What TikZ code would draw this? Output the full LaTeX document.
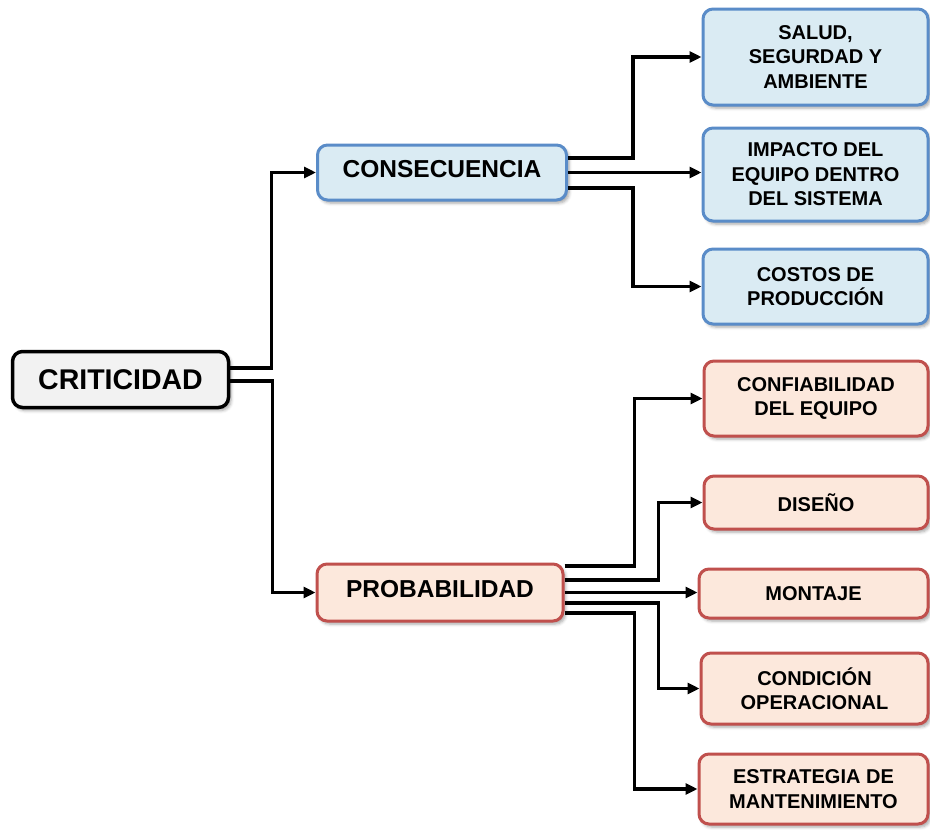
\documentclass[tikz,border=0pt]{standalone}
\usepackage{fontspec}
\setmainfont{Liberation Sans}
\usetikzlibrary{arrows.meta,shadows.blur}

\definecolor{blueFill}{HTML}{DAEBF3}
\definecolor{blueLine}{HTML}{5A8CC8}
\definecolor{redFill}{HTML}{FCE8DC}
\definecolor{redLine}{HTML}{C0504D}
\definecolor{rootFill}{HTML}{F2F2F2}

\tikzset{
  box/.style={rectangle, rounded corners=10pt, line width=3pt, inner sep=0pt,
    align=center, font=\bfseries\fontsize{20}{24.5}\selectfont,
    blur shadow={shadow xshift=2.5pt, shadow yshift=-3pt, shadow blur radius=3pt, shadow opacity=35}},
  rootbox/.style={box, draw=black, fill=rootFill, line width=3.5pt,
    font=\bfseries\fontsize{28.5}{33}\selectfont},
  bluemid/.style={box, draw=blueLine, fill=blueFill, text depth=7pt,
    font=\bfseries\fontsize{24.5}{29}\selectfont},
  redmid/.style={box, draw=redLine, fill=redFill, text depth=7pt,
    font=\bfseries\fontsize{24.5}{29}\selectfont},
  bluebox/.style={box, draw=blueLine, fill=blueFill},
  redbox/.style={box, draw=redLine, fill=redFill},
  conn/.style={line width=3.2pt, draw=black, -{Triangle[length=12pt,width=11pt]}},
}

\begin{document}
\begin{tikzpicture}[x=1pt,y=-1pt]
  \useasboundingbox (0,0) rectangle (930,830);

  % root and the two main branches
  \node[rootbox, minimum width=216pt, minimum height=56pt] (crit) at (120.5,379.5) {CRITICIDAD};
  \node[bluemid, minimum width=249pt, minimum height=55pt] (cons) at (442,172.5) {CONSECUENCIA};
  \node[redmid, minimum width=246pt, minimum height=57pt] (prob) at (440,592.5) {PROBABILIDAD};

  % consequence factors
  \node[bluebox, minimum width=225pt, minimum height=96pt] (salud) at (815.5,57) {SALUD,\\SEGURDAD Y\\AMBIENTE};
  \node[bluebox, minimum width=225pt, minimum height=93pt] (impacto) at (815.5,174.5) {IMPACTO DEL\\EQUIPO DENTRO\\DEL SISTEMA};
  \node[bluebox, minimum width=225pt, minimum height=75pt] (costos) at (815.5,286.5) {COSTOS DE\\PRODUCCIÓN};

  % probability factors
  \node[redbox, minimum width=224pt, minimum height=75pt] (confiab) at (816,398.5) {CONFIABILIDAD\\DEL EQUIPO};
  \node[redbox, minimum width=224pt, minimum height=53pt] (diseno) at (816,502.5) {DISEÑO};
  \node[redbox, minimum width=229pt, minimum height=49pt] (montaje) at (813.5,593.5) {MONTAJE};
  \node[redbox, minimum width=227pt, minimum height=71pt] (condicion) at (814.5,688.5) {CONDICIÓN\\OPERACIONAL};
  \node[redbox, minimum width=229pt, minimum height=70pt] (estrategia) at (813.5,789) {ESTRATEGIA DE\\MANTENIMIENTO};

  % root connectors
  \draw[conn] ([yshift=11.5pt]crit.east) -- ++(41,0) |- (cons.west);
  \draw[conn] ([yshift=-1.5pt]crit.east) -- ++(42,0) |- (prob.west);

  % consequence connectors
  \draw[conn] ([yshift=14.5pt]cons.east) -- ++(65,0) |- (salud.west);
  \draw[conn] (cons.east) -- (cons.east -| impacto.west);
  \draw[conn] ([yshift=-15.5pt]cons.east) -- ++(65,0) |- (costos.west);

  % probability connectors
  \draw[conn] ([yshift=26.5pt]prob.east) -- ++(70,0) |- (confiab.west);
  \draw[conn] ([yshift=12.5pt]prob.east) -- ++(94,0) |- (diseno.west);
  \draw[conn] (prob.east) -- (prob.east -| montaje.west);
  \draw[conn] ([yshift=-10.5pt]prob.east) -- ++(94,0) |- (condicion.west);
  \draw[conn] ([yshift=-20.5pt]prob.east) -- ++(70,0) |- (estrategia.west);
\end{tikzpicture}
\end{document}
